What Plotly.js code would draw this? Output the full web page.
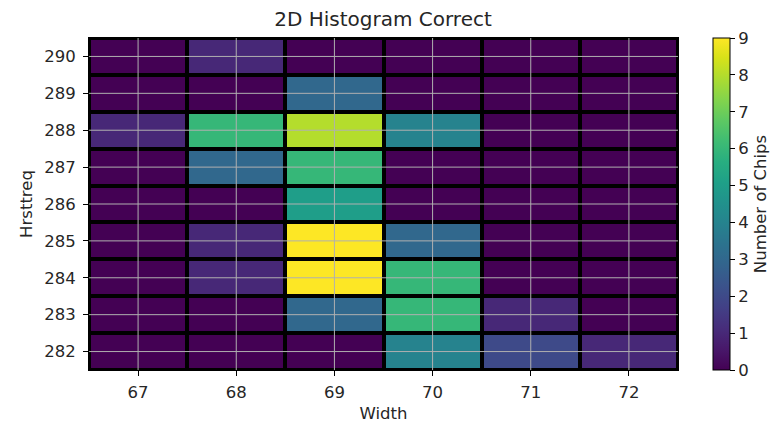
<!DOCTYPE html>
<html>
<head>
<meta charset="utf-8">
<script src="https://cdn.plot.ly/plotly-3.0.1.min.js"></script>
<style>
  html, body { margin: 0; padding: 0; background: #fff; }
  #chart { width: 777px; height: 426px; }
</style>
</head>
<body>
<div id="chart"></div>
<script>
// Bin centres
const widths = [67, 68, 69, 70, 71, 72];
const hrsttreq = [282, 283, 284, 285, 286, 287, 288, 289, 290];

// Chip counts per Hrsttreq row (bottom to top), one column per width
const row282 = [0, 0, 0, 4, 2, 1];
const row283 = [0, 0, 3, 6, 1, 0];
const row284 = [0, 1, 9, 6, 0, 0];
const row285 = [0, 1, 9, 3, 0, 0];
const row286 = [0, 0, 5, 0, 0, 0];
const row287 = [0, 3, 6, 0, 0, 0];
const row288 = [1, 6, 8, 4, 0, 0];
const row289 = [0, 0, 3, 0, 0, 0];
const row290 = [0, 1, 0, 0, 0, 0];

const counts = [row282, row283, row284, row285, row286, row287, row288, row289, row290];
const colorTicks = [0, 1, 2, 3, 4, 5, 6, 7, 8, 9];

const textFont = { family: 'DejaVu Sans, sans-serif', size: 16.5, color: '#262626' };
const gridColor = '#b0b0b0';

// Grid lines drawn over the cells
const gridShapes = [];
widths.forEach(function (w) {
  gridShapes.push({ type: 'line', layer: 'above', xref: 'x', yref: 'paper',
    x0: w, x1: w, y0: 0, y1: 1, line: { color: gridColor, width: 1 } });
});
hrsttreq.forEach(function (h) {
  gridShapes.push({ type: 'line', layer: 'above', xref: 'paper', yref: 'y',
    x0: 0, x1: 1, y0: h, y1: h, line: { color: gridColor, width: 1 } });
});

const trace = {
  type: 'heatmap',
  x: widths,
  y: hrsttreq,
  z: counts,
  colorscale: 'Viridis',
  zmin: 0,
  zmax: 9,
  xgap: 4,
  ygap: 4,
  hoverongaps: false,
  colorbar: {
    xref: 'container',
    x: 713 / 777,
    xanchor: 'left',
    xpad: 0,
    ypad: 0,
    y: 0.5,
    yanchor: 'middle',
    len: 1,
    lenmode: 'fraction',
    thickness: 17,
    outlinecolor: '#000',
    outlinewidth: 1,
    tickmode: 'array',
    tickvals: colorTicks,
    ticks: 'outside',
    ticklen: 5,
    tickcolor: '#000',
    tickfont: textFont,
    title: { text: 'Number of Chips', side: 'right', font: textFont }
  }
};

const layout = {
  width: 777,
  height: 426,
  margin: { l: 89, r: 99, t: 38, b: 56 },
  paper_bgcolor: '#fff',
  plot_bgcolor: '#000',
  font: textFont,
  title: { text: '2D Histogram Correct', font: { family: 'DejaVu Sans, sans-serif', size: 20, color: '#262626' },
           x: 383 / 777, xanchor: 'center', yref: 'container', y: 1 - 19 / 426, yanchor: 'middle' },
  xaxis: {
    range: [66.5, 72.5],
    tickmode: 'array',
    tickvals: widths,
    ticks: 'outside',
    ticklen: 5,
    tickcolor: '#000',
    ticklabelstandoff: 2,
    showgrid: false,
    zeroline: false,
    showline: true,
    linecolor: '#000',
    linewidth: 1,
    mirror: true,
    tickfont: textFont,
    title: { text: 'Width', font: textFont, standoff: 6 }
  },
  yaxis: {
    range: [281.5, 290.5],
    tickmode: 'array',
    tickvals: hrsttreq,
    ticks: 'outside',
    ticklen: 5,
    tickcolor: '#000',
    ticklabelstandoff: 4,
    showgrid: false,
    zeroline: false,
    showline: true,
    linecolor: '#000',
    linewidth: 1,
    mirror: true,
    tickfont: textFont,
    title: { text: 'Hrsttreq', font: textFont, standoff: 7 }
  },
  shapes: gridShapes
};

Plotly.newPlot('chart', [trace], layout, { displayModeBar: false, staticPlot: true });
</script>
</body>
</html>
